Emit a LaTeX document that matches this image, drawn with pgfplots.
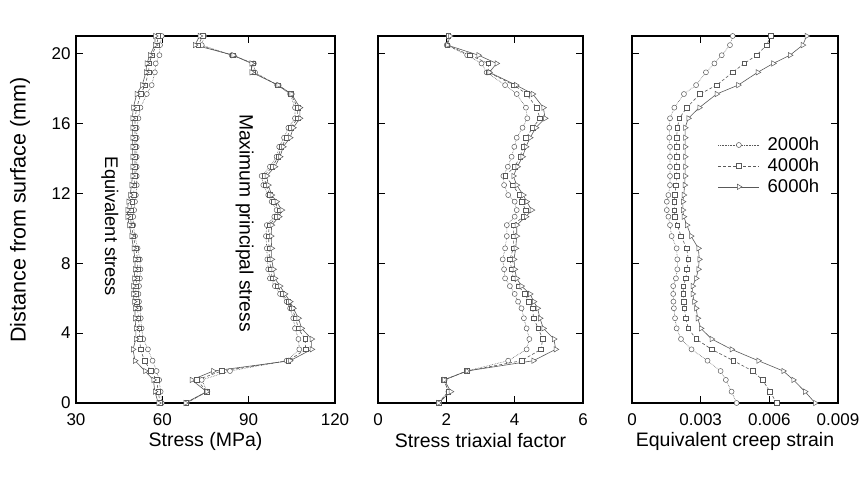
\documentclass[border=0pt]{standalone}
\usepackage{fontspec}
\setmainfont{Liberation Sans}
\usepackage{pgfplots}
\pgfplotsset{compat=1.18}
\usepackage{pgfplotstable}

% Equivalent stress (MPa)
\pgfplotstableread{
y a b c
0 59.8 59.2 58.6
0.65 59.4 58.6 57.4
1.32 58.9 58.0 56.9
1.83 58.0 56.0 54.0
2.42 56.6 53.8 50.5
3.07 55.0 52.4 49.8
3.66 53.4 52.2 50.8
4.27 52.8 52.0 50.8
4.85 52.5 51.7 50.5
5.42 52.2 51.4 50.5
5.8 51.9 51.1 50.2
6.24 51.7 50.8 49.9
6.69 51.9 50.8 49.9
7.13 52.2 51.1 50.2
7.65 52.4 51.4 50.5
8.22 52.2 51.4 50.5
8.85 51.4 50.8 50.0
9.55 50.5 49.9 49.3
10.18 49.9 49.3 48.5
10.66 49.9 48.8 47.9
11.04 50.2 49.0 47.9
11.52 50.5 49.5 48.2
11.9 50.8 50.0 48.8
12.47 51.1 50.3 49.3
12.99 51.1 50.5 49.6
13.52 51.1 50.5 49.6
14.09 51.1 50.5 49.6
14.66 51.1 50.5 49.6
15.18 51.1 50.5 49.6
15.75 51.1 50.5 49.6
16.29 51.7 50.5 49.6
16.9 52.4 51.1 49.9
17.68 54.6 52.5 51.1
18.19 56.3 54.0 53.0
18.92 57.4 55.2 54.3
19.43 57.7 55.5 54.6
19.9 59.0 56.3 55.7
20.48 59.2 58.0 57.4
21 59.8 58.6 57.5
}\eqs

% Maximum principal stress (MPa)
\pgfplotstableread{
y a b c
0 68.5 68.3 68.0
0.65 75.6 75.5 75.4
1.32 73.7 72.0 70.2
1.83 83.5 80.6 77.7
2.42 103.2 103.8 104.4
3.07 107.6 109.8 111.9
3.66 107.3 109.6 111.9
4.27 106.1 107.2 108.4
4.85 105.5 106.4 107.3
5.42 104.4 105.0 105.5
5.8 103.2 103.8 104.4
6.24 100.9 101.7 102.6
6.69 99.1 100.0 100.9
7.13 97.4 98.2 99.1
7.65 96.8 97.7 98.6
8.22 96.5 97.2 98.0
8.85 96.3 97.1 98.0
9.55 96.0 96.9 97.8
10.18 96.3 97.1 98.0
10.66 98.9 99.8 100.6
11.04 99.7 100.6 101.5
11.52 98.0 98.8 99.7
11.9 96.8 97.4 98.0
12.47 95.1 96.0 96.8
12.99 94.5 95.4 96.3
13.52 97.4 98.2 99.1
14.09 99.7 100.3 100.9
14.66 100.6 101.3 102.0
15.18 102.3 103.3 104.4
15.75 103.8 104.6 105.5
16.29 106.1 107.0 107.8
16.9 106.1 107.0 107.8
17.68 104.4 104.7 104.9
18.19 99.9 100.1 100.3
18.92 92.2 91.6 91.0
19.43 91.8 91.4 91.0
19.9 84.1 84.4 84.7
20.48 73.7 72.5 71.3
21 74.5 74.0 73.0
}\mps

% Stress triaxial factor
\pgfplotstableread{
y a b c
0 1.77 1.77 1.77
0.65 2.06 2.06 2.13
1.32 1.93 1.93 1.94
1.83 2.60 2.60 2.60
2.42 3.81 4.20 4.55
3.07 4.35 4.77 5.20
3.66 4.43 4.82 5.15
4.27 4.35 4.69 4.84
4.85 4.27 4.55 4.74
5.42 4.20 4.53 4.67
5.8 4.10 4.42 4.56
6.24 4.00 4.30 4.45
6.69 3.86 4.11 4.20
7.13 3.72 3.96 4.06
7.65 3.69 3.91 4.00
8.22 3.65 3.86 3.98
8.85 3.72 3.96 4.03
9.55 3.77 3.96 4.06
10.18 3.77 3.96 4.06
10.66 4.00 4.25 4.33
11.04 4.06 4.33 4.50
11.52 4.00 4.20 4.35
11.9 3.81 4.14 4.25
12.47 3.69 3.94 4.06
12.99 3.67 3.72 3.96
13.52 3.80 4.00 4.08
14.09 3.91 4.16 4.23
14.66 3.99 4.25 4.33
15.18 4.06 4.33 4.45
15.75 4.23 4.53 4.62
16.29 4.37 4.74 4.89
16.9 4.33 4.64 4.84
17.68 4.06 4.35 4.53
18.19 3.72 3.98 4.04
18.92 3.18 3.23 3.26
19.43 3.03 3.23 3.47
19.9 2.61 2.69 2.94
20.48 2.01 2.03 2.03
21 2.06 2.06 2.11
}\tri

% Equivalent creep strain
\pgfplotstableread{
y a b c
0 0.00457 0.00632 0.00800
0.65 0.00435 0.00603 0.00756
1.32 0.00410 0.00570 0.00705
1.83 0.00387 0.00527 0.00661
2.42 0.00330 0.00443 0.00552
3.07 0.00260 0.00348 0.00435
3.66 0.00214 0.00280 0.00348
4.27 0.00195 0.00246 0.00301
4.85 0.00188 0.00235 0.00287
5.42 0.00183 0.00229 0.00280
5.8 0.00181 0.00226 0.00272
6.24 0.00180 0.00224 0.00265
6.69 0.00180 0.00224 0.00265
7.13 0.00192 0.00235 0.00280
7.65 0.00198 0.00240 0.00290
8.22 0.00198 0.00246 0.00294
8.85 0.00195 0.00239 0.00290
9.55 0.00173 0.00214 0.00258
10.18 0.00166 0.00198 0.00240
10.66 0.00159 0.00188 0.00226
11.04 0.00152 0.00185 0.00222
11.52 0.00152 0.00185 0.00222
11.9 0.00159 0.00188 0.00226
12.47 0.00166 0.00192 0.00230
12.99 0.00166 0.00195 0.00232
13.52 0.00166 0.00195 0.00232
14.09 0.00166 0.00195 0.00232
14.66 0.00166 0.00195 0.00232
15.18 0.00163 0.00195 0.00232
15.75 0.00163 0.00198 0.00232
16.29 0.00166 0.00207 0.00246
16.9 0.00185 0.00239 0.00294
17.68 0.00227 0.00297 0.00370
18.19 0.00280 0.00370 0.00464
18.92 0.00323 0.00440 0.00549
19.43 0.00360 0.00490 0.00617
19.9 0.00392 0.00545 0.00690
20.48 0.00428 0.00588 0.00746
21 0.00440 0.00607 0.00763
}\crp

\pgfplotsset{
  panel/.style={
    scale only axis, height=367pt, anchor=south west,
    ymin=0, ymax=21, ytick={0,4,...,20},
    tick align=inside, major tick length=7pt,
    axis line style={line width=1.1pt, black},
    every tick/.style={black, line width=1.1pt},
    tick label style={font=\fontsize{17}{20}\selectfont},
    xticklabel style={yshift=-7pt},
    yticklabel style={xshift=-2pt},
    label style={font=\fontsize{19.5}{22}\selectfont},
    /pgf/number format/assume math mode=true,
    clip=false,
    xlabel style={at={(axis description cs:0.5,0)}, anchor=center, yshift=-38pt},
  },
  s2/.style={color=black!65, densely dotted, line width=0.6pt, mark=*, mark size=2.5pt,
    mark options={solid, fill=white, draw=black!65, line width=0.5pt}},
  s4/.style={color=black!65, densely dashed, line width=0.6pt, mark=square*, mark size=2.3pt,
    mark options={solid, fill=white, draw=black!65, line width=0.5pt}},
  s6/.style={color=black!65, solid, line width=0.6pt, mark=triangle*, mark size=3.1pt,
    mark options={solid, rotate=-90, fill=white, draw=black!65, line width=0.5pt}},
}

\begin{document}
\begin{tikzpicture}
\path (0pt,0pt) rectangle (864pt,484pt);

\begin{axis}[panel, at={(76pt,81pt)}, width=259pt,
  xmin=30, xmax=120, xtick={30,60,90,120},
  xlabel={Stress (MPa)}, ylabel={Distance from surface (mm)},
  ylabel style={at={(axis description cs:-0.216,0.526)}, anchor=center, font=\fontsize{21.5}{24}\selectfont}]
\addplot[s2] table[x=a,y=y]{\eqs};
\addplot[s4] table[x=b,y=y]{\eqs};
\addplot[s6] table[x=c,y=y]{\eqs};
\addplot[s2] table[x=a,y=y]{\mps};
\addplot[s4] table[x=b,y=y]{\mps};
\addplot[s6] table[x=c,y=y]{\mps};
\node[rotate=-90, anchor=center, font=\fontsize{18.3}{21}\selectfont] at (axis cs:41.8,10.1) {Equivalent stress};
\node[rotate=-90, anchor=center, font=\fontsize{19.3}{22}\selectfont] at (axis cs:88.6,10.3) {Maximum principal stress};
\end{axis}

\begin{axis}[panel, at={(378pt,81pt)}, width=205pt,
  xmin=0, xmax=6, xtick={0,2,4,6}, yticklabels={},
  xlabel={Stress triaxial factor}]
\addplot[s2] table[x=a,y=y]{\tri};
\addplot[s4] table[x=b,y=y]{\tri};
\addplot[s6] table[x=c,y=y]{\tri};
\end{axis}

\begin{axis}[panel, at={(632pt,81pt)}, width=206pt,
  xmin=0, xmax=0.009, xtick={0,0.003,0.006,0.009},
  xticklabels={0,0.003,0.006,0.009}, scaled x ticks=false, yticklabels={},
  xlabel={Equivalent creep strain},
  legend style={draw=none, fill=white, at={(0.412,0.732)}, anchor=north west,
    font=\fontsize{18.5}{22}\selectfont, inner sep=1pt, row sep=2pt, column sep=6pt},
  legend cell align=left,
  legend image code/.code={\draw[mark repeat=2,mark phase=2,#1] plot coordinates {(0pt,0pt) (20.5pt,0pt) (41pt,0pt)};}]
\addplot[s2] table[x=a,y=y]{\crp};
\addplot[s4] table[x=b,y=y]{\crp};
\addplot[s6] table[x=c,y=y]{\crp};
\legend{2000h,4000h,6000h}
\end{axis}
\end{tikzpicture}
\end{document}
